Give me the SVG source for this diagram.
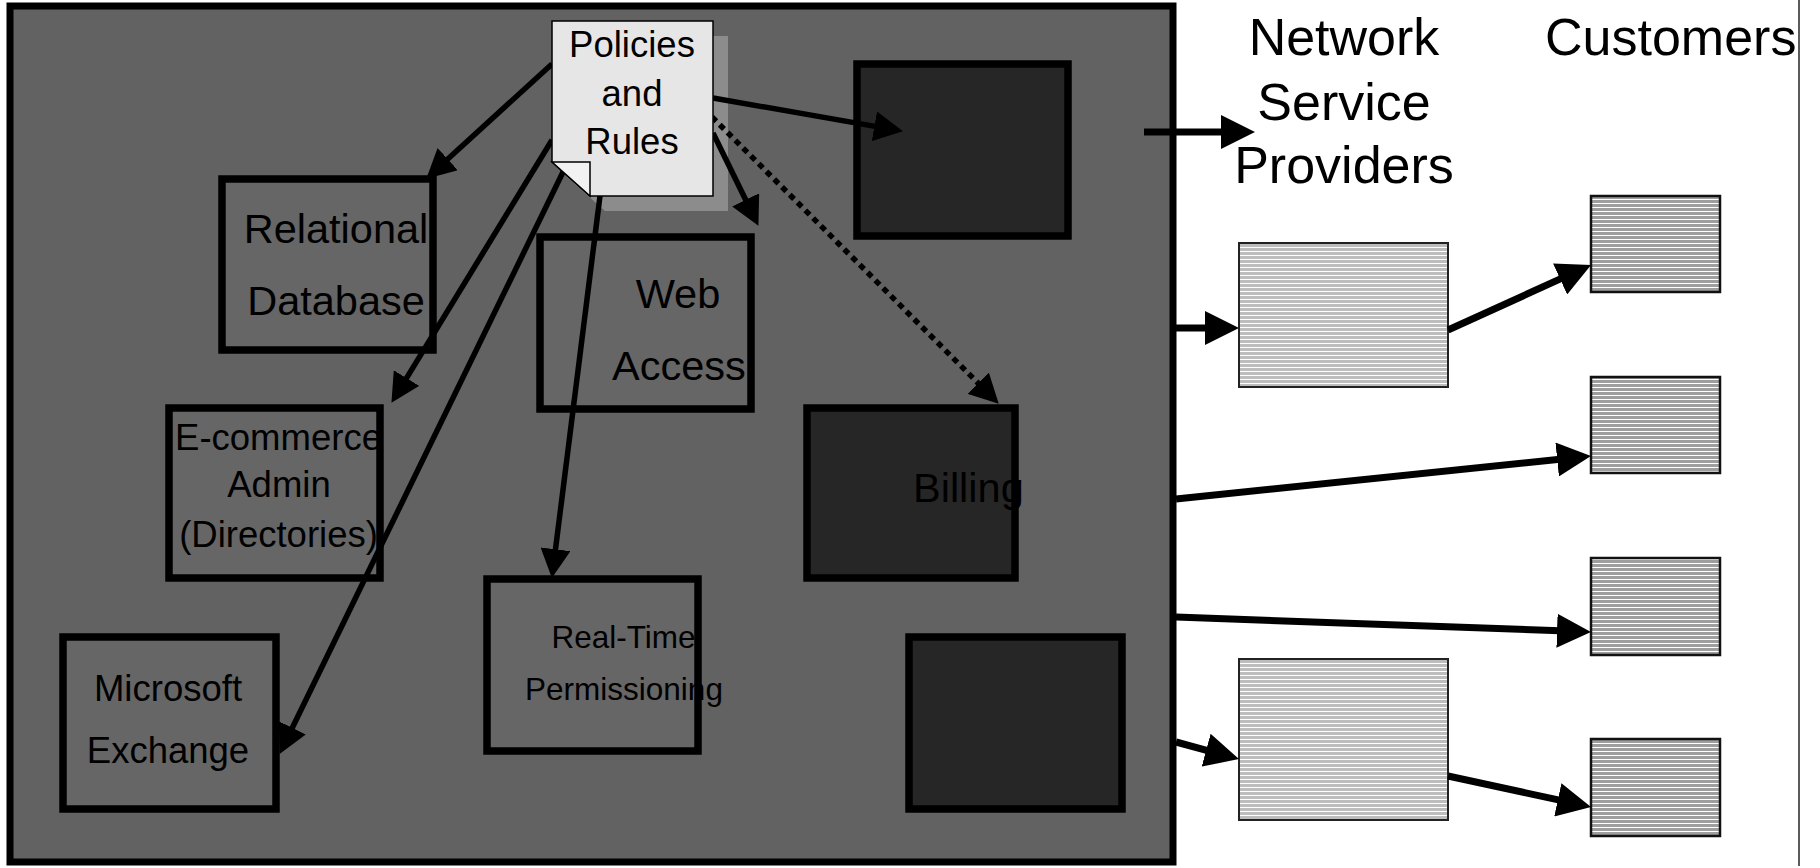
<svg xmlns="http://www.w3.org/2000/svg" width="1820" height="868" viewBox="0 0 1820 868">
<style>
text{font-family:"Liberation Sans",Arial,sans-serif;fill:#000}
.box{fill:#666666;stroke:#000;stroke-width:7.5}
.dark{fill:#262626;stroke:#000;stroke-width:7.5}
.l40{font-size:41.5px}
.l36{font-size:36.5px}
.l31{font-size:31.5px}
.hdr{font-size:52px}
.c{text-anchor:middle}
.in{stroke:#000;stroke-width:5.5;fill:none;marker-end:url(#ahS)}
.out{stroke:#000;stroke-width:7;fill:none;marker-end:url(#ahL)}
.nsp{fill:url(#stripeL);stroke:#222;stroke-width:2}
.cust{fill:url(#stripeD);stroke:#111;stroke-width:2.5}
</style>
<defs>
<marker id="ahS" markerUnits="userSpaceOnUse" markerWidth="29" markerHeight="30" viewBox="0 0 29 30" refX="8" refY="15" orient="auto">
<path d="M0,0 L29,15 L0,30 z" fill="#000"/>
</marker>
<marker id="ahL" markerUnits="userSpaceOnUse" markerWidth="34" markerHeight="34" viewBox="0 0 34 34" refX="10" refY="17" orient="auto">
<path d="M0,0 L34,17 L0,34 z" fill="#000"/>
</marker>
<pattern id="stripeL" patternUnits="userSpaceOnUse" width="8" height="4">
<rect width="8" height="4" fill="#bdbdbd"/>
<rect y="3" width="8" height="1" fill="#ffffff"/>
</pattern>
<pattern id="stripeD" patternUnits="userSpaceOnUse" width="8" height="4">
<rect width="8" height="4" fill="#9e9e9e"/>
<rect y="3" width="8" height="1" fill="#ffffff"/>
</pattern>
</defs>
<rect width="1820" height="868" fill="#ffffff"/>
<rect id="panel" x="10" y="6" width="1163" height="856" fill="#626262" stroke="#000" stroke-width="7"/>
<line x1="1799" y1="0" x2="1799" y2="866" stroke="#333" stroke-width="1.6"/>

<g id="relational">
<rect class="box" x="222" y="179" width="211" height="171"/>
<text class="l40 c" x="336" y="243">Relational</text>
<text class="l40 c" x="336" y="315">Database</text>
</g>
<g id="webaccess">
<rect class="box" x="540" y="237" width="211" height="172"/>
<text class="l40 c" x="678" y="308">Web</text>
<text class="l40 c" x="679" y="380">Access</text>
</g>
<g id="ecommerce">
<rect class="box" x="169" y="408" width="211" height="170"/>
<text class="l36 c" x="278.5" y="450">E-commerce</text>
<text class="l36 c" x="279" y="497">Admin</text>
<text class="l36 c" x="278.5" y="547">(Directories)</text>
</g>
<g id="realtime">
<rect class="box" x="487" y="579" width="211" height="172"/>
<text class="l31 c" x="623.5" y="648">Real-Time</text>
<text class="l31 c" x="624" y="700">Permissioning</text>
</g>
<g id="exchange">
<rect class="box" x="63" y="637" width="213" height="172"/>
<text class="l36 c" x="168" y="701">Microsoft</text>
<text class="l36 c" x="168" y="763">Exchange</text>
</g>
<g id="darkTop">
<rect class="dark" x="857" y="64" width="211" height="172"/>
</g>
<g id="billing">
<rect class="dark" x="807" y="408" width="208" height="170"/>
<text class="l40" x="913" y="502">Billing</text>
</g>
<g id="darkBottom">
<rect class="dark" x="909" y="637" width="213" height="172"/>
</g>

<g id="nspLabel">
<text class="hdr c" x="1344" y="55">Network</text>
<text class="hdr c" x="1344" y="120">Service</text>
<text class="hdr c" x="1344" y="183">Providers</text>
</g>
<g id="custLabel">
<text class="hdr" x="1545" y="55">Customers</text>
</g>
<g id="nsp1"><rect class="nsp" x="1239" y="243" width="209" height="144"/></g>
<g id="nsp2"><rect class="nsp" x="1239" y="659" width="209" height="161"/></g>
<g id="cust1"><rect class="cust" x="1591" y="196" width="129" height="96"/></g>
<g id="cust2"><rect class="cust" x="1591" y="377" width="129" height="96"/></g>
<g id="cust3"><rect class="cust" x="1591" y="558" width="129" height="97"/></g>
<g id="cust4"><rect class="cust" x="1591" y="739" width="129" height="97"/></g>

<g id="policiesShadow">
<path d="M567,36 L728,36 L728,211 L605,211 L567,177 z" fill="#8c8c8c"/>
</g>

<g id="connectors">
<line class="in" x1="552" y1="64" x2="441.8" y2="164.5"/>
<line class="in" x1="552" y1="140" x2="402.4" y2="384.9"/>
<line class="in" x1="563" y1="172" x2="288.8" y2="735"/>
<line class="in" x1="600" y1="196" x2="554.5" y2="557.2"/>
<line class="in" x1="713" y1="133" x2="749.2" y2="207"/>
<line class="in" x1="712" y1="117" x2="983.9" y2="388.9" stroke-dasharray="6 5" stroke-width="6"/>
<line class="in" x1="713" y1="98" x2="882.3" y2="127.6"/>
<line class="out" x1="1144" y1="132" x2="1231" y2="132"/>
<line class="out" x1="1173" y1="328" x2="1215" y2="328"/>
<line class="out" x1="1448" y1="330" x2="1569.2" y2="274.9"/>
<line class="out" x1="1176" y1="499" x2="1567.1" y2="458.5"/>
<line class="out" x1="1176" y1="617" x2="1567" y2="631.1"/>
<line class="out" x1="1176" y1="742" x2="1215.8" y2="752.8"/>
<line class="out" x1="1448" y1="776" x2="1567.6" y2="801.9"/>
</g>

<g id="policiesNote">
<path d="M552,21 L713,21 L713,196 L590,196 L552,162 z" fill="#e6e6e6" stroke="#000" stroke-width="1.5"/>
<path d="M552,162 L590,162 L590,196 z" fill="#f2f2f2" stroke="#000" stroke-width="1.5"/>
<text class="l36 c" x="632" y="57">Policies</text>
<text class="l36 c" x="632" y="106">and</text>
<text class="l36 c" x="632" y="154">Rules</text>
</g>
</svg>
